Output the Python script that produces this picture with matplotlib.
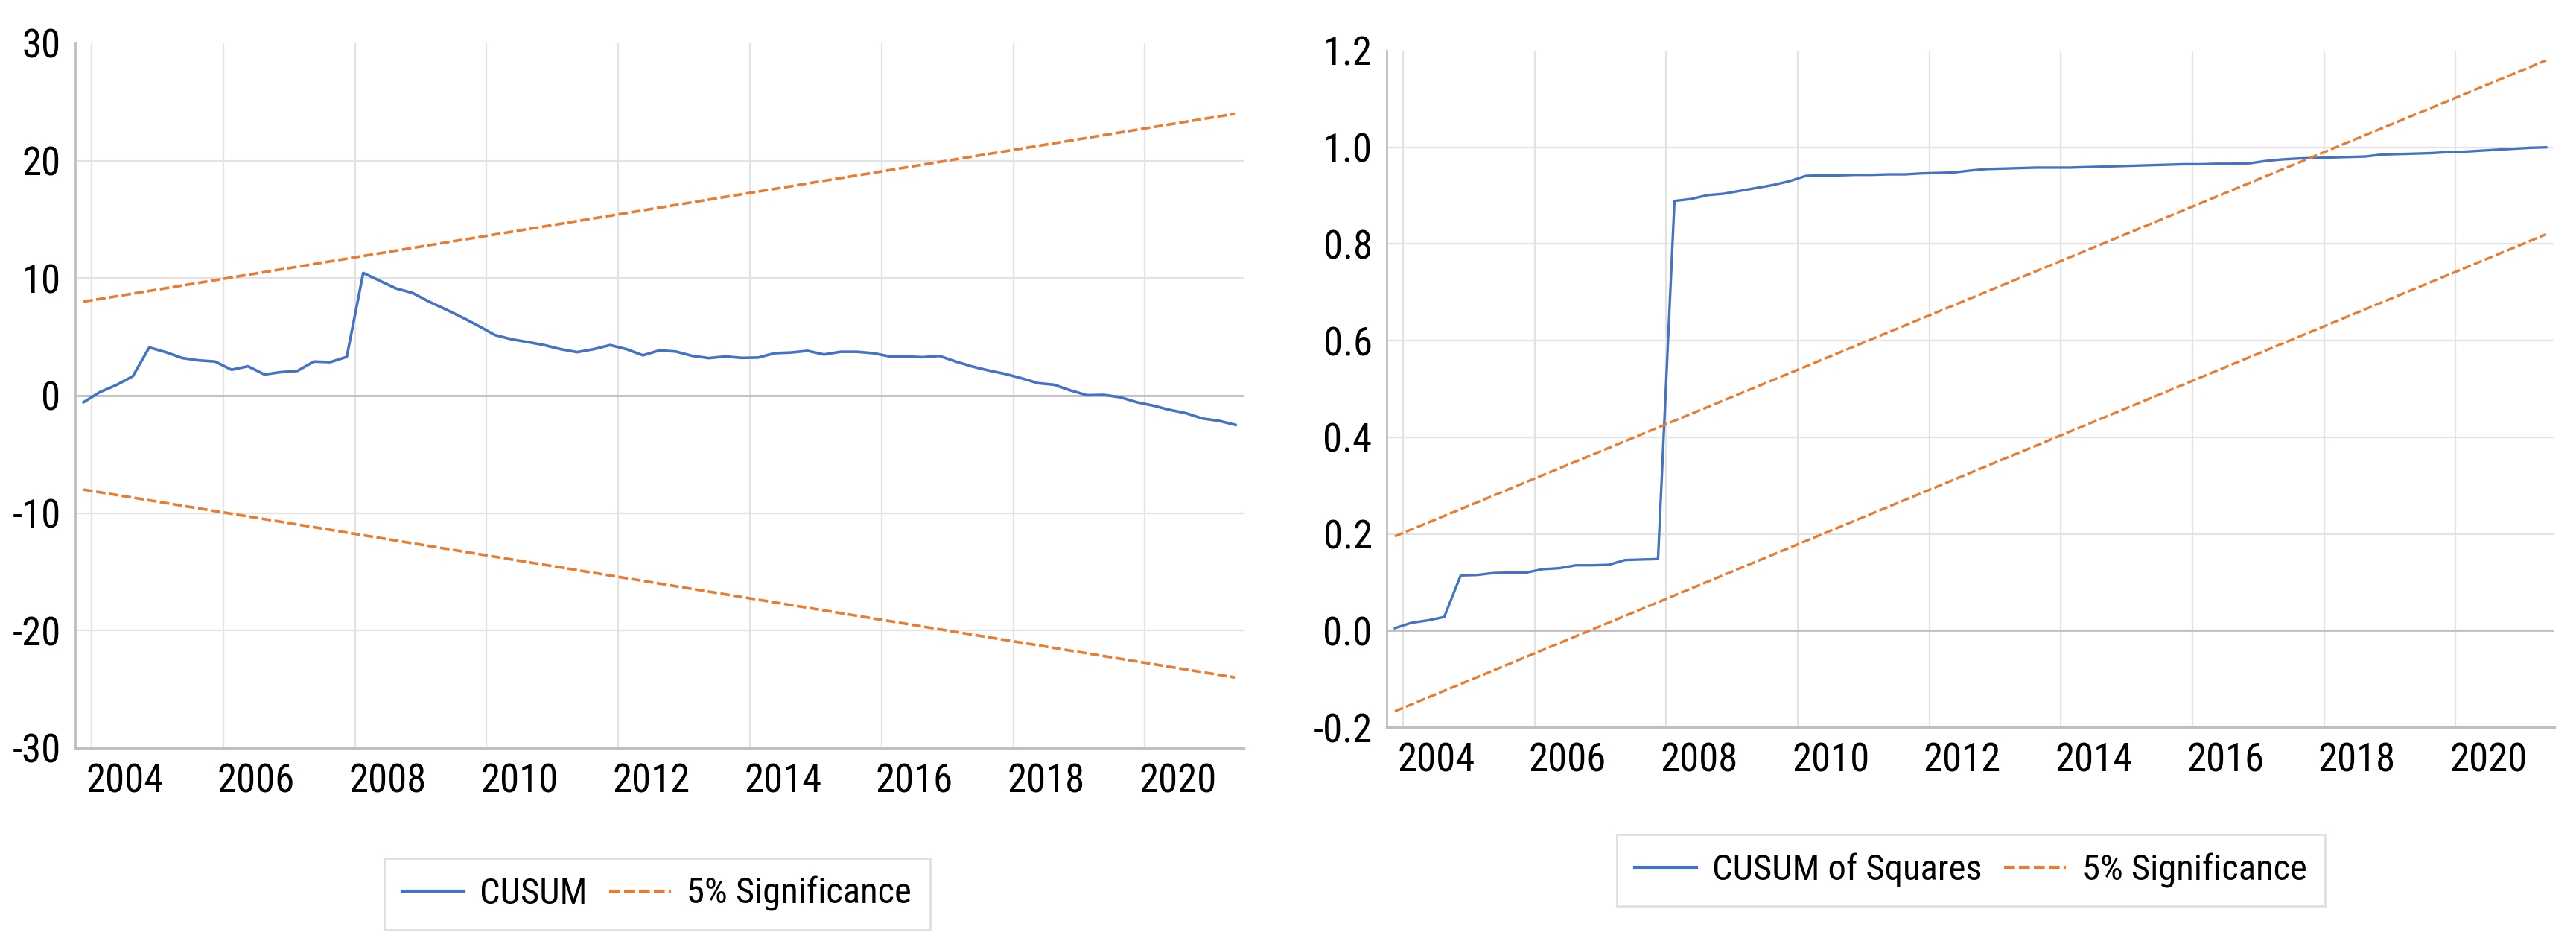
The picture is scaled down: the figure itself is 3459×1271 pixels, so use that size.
import matplotlib
matplotlib.use("Agg")
import matplotlib.pyplot as plt
import numpy as np

# quarterly sample 2003Q2 - 2020Q4
quarters = [f"{2003 + (k + 1) // 4}Q{(k + 1) % 4 + 1}" for k in range(71)]

cusum = [-0.57, 0.30, 0.90, 1.65, 4.10, 3.70, 3.20, 3.00, 2.90, 2.20,
         2.50, 1.80, 2.00, 2.10, 2.90, 2.85, 3.30, 10.44, 9.78, 9.12,
         8.74, 8.00, 7.35, 6.67, 5.94, 5.16, 4.80, 4.56, 4.30, 3.95,
         3.70, 3.95, 4.30, 3.95, 3.43, 3.85, 3.75, 3.38, 3.19, 3.33,
         3.21, 3.24, 3.61, 3.67, 3.81, 3.50, 3.73, 3.73, 3.61, 3.33,
         3.33, 3.27, 3.38, 2.90, 2.48, 2.14, 1.85, 1.48, 1.06, 0.92,
         0.43, 0.03, 0.06, -0.14, -0.56, -0.85, -1.21, -1.50, -1.95, -2.15,
         -2.49]
cusum_upper = [8.0, 24.0]
cusum_lower = [-8.0, -24.0]

cusumsq = [0.005, 0.016, 0.021, 0.028, 0.114, 0.115, 0.119, 0.120, 0.120, 0.127,
           0.129, 0.135, 0.135, 0.136, 0.146, 0.147, 0.148, 0.889, 0.893, 0.901,
           0.904, 0.910, 0.916, 0.922, 0.930, 0.941, 0.942, 0.942, 0.943, 0.943,
           0.944, 0.944, 0.946, 0.947, 0.948, 0.952, 0.955, 0.956, 0.957, 0.958,
           0.958, 0.958, 0.959, 0.960, 0.961, 0.962, 0.963, 0.964, 0.965, 0.965,
           0.966, 0.966, 0.967, 0.972, 0.975, 0.977, 0.978, 0.979, 0.980, 0.981,
           0.985, 0.986, 0.987, 0.988, 0.990, 0.991, 0.993, 0.995, 0.997, 0.999,
           1.000]
cusumsq_upper = [0.195, 1.18]
cusumsq_lower = [-0.167, 0.82]

year_labels = ['2004', '2006', '2008', '2010', '2012', '2014', '2016', '2018', '2020']

x = np.arange(len(quarters))
x_ends = [x[0], x[-1]]
label_pos = [quarters.index(y + 'Q1') - 0.5 for y in year_labels]
grid_pos = [p - 2 for p in label_pos]

BLUE = '#4472C4'
ORANGE = '#E97C30'
GRID = '#E3E3E3'
AXIS = '#BFBFBF'
DASH = (0, (3.5, 1.3))

plt.rcParams['font.family'] = ['Liberation Sans Narrow', 'Roboto Condensed',
                               'Liberation Sans', 'DejaVu Sans']

fig = plt.figure(figsize=(34.59, 12.71), dpi=100)
ax1 = fig.add_axes([0.0292, 0.2101, 0.4536, 0.7443])
ax2 = fig.add_axes([0.5383, 0.2321, 0.4533, 0.7144])


def style(ax, ylim, step, fmt):
    ax.set_xlim(-0.5, len(quarters) - 0.5)
    ax.set_ylim(*ylim)
    ax.set_yticks(np.arange(ylim[0], ylim[1] + step / 2, step))
    ax.yaxis.set_major_formatter(plt.FormatStrFormatter(fmt))
    ax.set_xticks(label_pos)
    ax.set_xticklabels(year_labels)
    for gp in grid_pos:
        ax.axvline(gp, color=GRID, lw=1.6, zorder=0)
    for yv in ax.get_yticks()[1:-1]:
        ax.axhline(yv, color=GRID, lw=1.6, zorder=0)
    ax.axhline(0, color=AXIS, lw=2.0, zorder=1)
    for s in ['top', 'right']:
        ax.spines[s].set_visible(False)
    ax.spines['left'].set_color(AXIS)
    ax.spines['left'].set_linewidth(2.0)
    ax.spines['bottom'].set_color(AXIS)
    ax.spines['bottom'].set_linewidth(2.5)
    ax.tick_params(axis='both', length=0, labelsize=38)
    ax.tick_params(axis='y', pad=14)
    ax.tick_params(axis='x', pad=14)


style(ax1, (-30, 30), 10, '%d')
ax1.plot(x, cusum, color=BLUE, lw=2.6, label='CUSUM', zorder=3)
ax1.plot(x_ends, cusum_upper, color=ORANGE, lw=2.6, ls=DASH,
         label='5% Significance', zorder=3)
ax1.plot(x_ends, cusum_lower, color=ORANGE, lw=2.6, ls=DASH, zorder=3)

style(ax2, (-0.2, 1.2), 0.2, '%.1f')
ax2.plot(x, cusumsq, color=BLUE, lw=2.4, label='CUSUM of Squares', zorder=3)
ax2.plot(x_ends, cusumsq_upper, color=ORANGE, lw=2.4, ls=DASH,
         label='5% Significance', zorder=3)
ax2.plot(x_ends, cusumsq_lower, color=ORANGE, lw=2.4, ls=DASH, zorder=3)

for ax, cx, cy in [(ax1, 0.255, 0.056), (ax2, 0.765, 0.081)]:
    leg = ax.legend(loc='center', bbox_to_anchor=(cx, cy), bbox_transform=fig.transFigure,
                    ncol=2, fontsize=35, frameon=True, fancybox=False,
                    handlelength=1.7, handletextpad=0.45, columnspacing=0.6,
                    borderpad=0.5)
    leg.get_frame().set_edgecolor('#D9D9D9')
    leg.get_frame().set_linewidth(2.0)
    for line in leg.get_lines():
        line.set_linewidth(3.0)

fig.savefig('out.png', dpi=100)
